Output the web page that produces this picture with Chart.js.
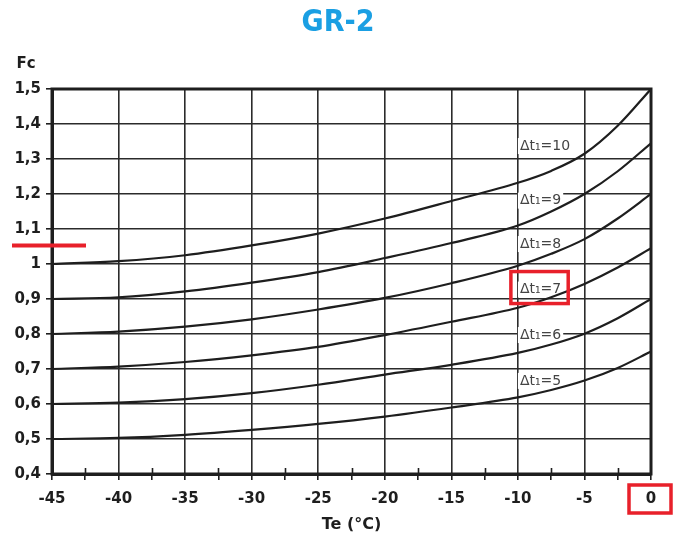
<!DOCTYPE html>
<html>
<head>
<meta charset="utf-8">
<script src="https://cdn.jsdelivr.net/npm/chart.js@4"></script>
<style>
  html, body { margin: 0; padding: 0; background: #fff; }
</style>
</head>
<body>
<canvas id="chart" width="673" height="540"></canvas>
<script>
// Evaporating temperature (°C) where the curves were read
const temps = [-45, -40, -35, -30, -25, -20, -15, -10, -7.5, -5, -2.5, 0];

// Correction factor Fc for each Δt1
const fcDt5  = [0.50, 0.503, 0.512, 0.526, 0.543, 0.564, 0.590, 0.619, 0.640, 0.667, 0.703, 0.75];
const fcDt6  = [0.60, 0.604, 0.614, 0.631, 0.655, 0.684, 0.712, 0.746, 0.770, 0.801, 0.845, 0.90];
const fcDt7  = [0.70, 0.707, 0.720, 0.739, 0.763, 0.797, 0.835, 0.875, 0.905, 0.943, 0.990, 1.045];
const fcDt8  = [0.80, 0.807, 0.821, 0.842, 0.870, 0.903, 0.945, 0.995, 1.029, 1.071, 1.130, 1.20];
const fcDt9  = [0.90, 0.905, 0.922, 0.947, 0.977, 1.017, 1.060, 1.110, 1.150, 1.200, 1.265, 1.345];
const fcDt10 = [1.00, 1.008, 1.025, 1.053, 1.087, 1.130, 1.180, 1.232, 1.266, 1.315, 1.395, 1.50];

const curveNames = ['Δt₁=5', 'Δt₁=6', 'Δt₁=7', 'Δt₁=8', 'Δt₁=9', 'Δt₁=10'];

const xTicks = [-45, -40, -35, -30, -25, -20, -15, -10, -5, 0];
const xTickLabels = ['-45', '-40', '-35', '-30', '-25', '-20', '-15', '-10', '-5', '0'];
const xMinorTicks = [-42.5, -37.5, -32.5, -27.5, -22.5, -17.5, -12.5, -7.5, -2.5];
const yTicks = [0.4, 0.5, 0.6, 0.7, 0.8, 0.9, 1.0, 1.1, 1.2, 1.3, 1.4, 1.5];
const yTickLabels = ['0,4', '0,5', '0,6', '0,7', '0,8', '0,9', '1', '1,1', '1,2', '1,3', '1,4', '1,5'];

const ink = '#1e1e1e';
const gridInk = '#2b2b2b';
const red = '#e8202a';
const tickFont = { family: '"DejaVu Sans"', size: 15, weight: 'bold' };
const labelFont = '14px "DejaVu Sans"';

// where each curve name sits (Fc value at its middle, x at left edge)
const labelX = -10;
const labelFc = [0.666, 0.797, 0.927, 1.057, 1.181, 1.337];

const curves = [fcDt5, fcDt6, fcDt7, fcDt8, fcDt9, fcDt10];

const overlay = {
    id: 'overlay',
    beforeDatasetsDraw(chart) {
        const c = chart.ctx;
        const xs = chart.scales.x, ys = chart.scales.y;
        c.save();
        c.font = labelFont;
        c.textBaseline = 'middle';
        curveNames.forEach((name, i) => {
            const x = xs.getPixelForValue(labelX) + 2;
            const y = ys.getPixelForValue(labelFc[i]);
            const w = c.measureText(name).width;
            c.fillStyle = '#fff';
            c.fillRect(x - 2, y - 8, w + 4, 16);
            c.fillStyle = '#444';
            c.fillText(name, x, y);
        });
        c.restore();
    },
    afterDraw(chart) {
        const c = chart.ctx;
        const a = chart.chartArea;
        const xs = chart.scales.x, ys = chart.scales.y;
        c.save();

        // frame
        c.strokeStyle = ink;
        c.lineWidth = 3;
        c.strokeRect(a.left, a.top, a.right - a.left, a.bottom - a.top);

        // half-step ticks crossing the bottom axis
        c.lineWidth = 1.6;
        xMinorTicks.forEach(v => {
            const x = Math.round(xs.getPixelForValue(v)) + 0.5;
            c.beginPath();
            c.moveTo(x, a.bottom - 6);
            c.lineTo(x, a.bottom);
            c.stroke();
        });

        // title
        c.fillStyle = '#1a9fe3';
        c.font = 'bold 30px "DejaVu Sans Condensed"';
        c.textAlign = 'center';
        c.textBaseline = 'middle';
        c.fillText('GR-2', 338, 23);

        // y axis name
        c.fillStyle = ink;
        c.font = 'bold 15px "DejaVu Sans"';
        c.fillText('Fc', 26, 64);

        // red marks
        c.strokeStyle = red;
        c.lineWidth = 4;
        const yr = ys.getPixelForValue(1.053);
        c.beginPath();
        c.moveTo(12, yr);
        c.lineTo(86, yr);
        c.stroke();

        c.font = labelFont;
        const lx = xs.getPixelForValue(labelX) + 2;
        const ly = ys.getPixelForValue(labelFc[2]);
        const lw = c.measureText(curveNames[2]).width;
        c.lineWidth = 3.5;
        c.strokeRect(lx - 9, ly - 18, lw + 16, 32);

        const x0 = xs.getPixelForValue(0);
        c.strokeRect(x0 - 22, 485, 42, 28);

        c.restore();
    }
};

const chart = new Chart(document.getElementById('chart'), {
    type: 'line',
    data: {
        datasets: curves.map((vals, i) => ({
            label: curveNames[i],
            data: temps.map((t, j) => ({ x: t, y: vals[j] })),
            borderColor: ink,
            borderWidth: 2.2,
            pointRadius: 0,
            cubicInterpolationMode: 'monotone',
            fill: false
        }))
    },
    options: {
        responsive: false,
        animation: false,
        devicePixelRatio: 1,
        layout: { padding: { top: 89, left: 0, right: 22, bottom: 0 } },
        plugins: {
            legend: { display: false },
            title: { display: false },
            tooltip: { enabled: false }
        },
        scales: {
            x: {
                type: 'linear',
                min: -45,
                max: 0,
                afterFit: s => { s.height = 66; },
                afterBuildTicks: s => {
                    s.ticks = xTicks.concat(xMinorTicks).sort((p, q) => p - q).map(v => ({ value: v }));
                },
                ticks: {
                    autoSkip: false,
                    maxRotation: 0,
                    padding: 10,
                    color: ink,
                    font: tickFont,
                    callback: v => {
                        const k = xTicks.indexOf(v);
                        return k >= 0 ? xTickLabels[k] : '';
                    }
                },
                grid: {
                    color: ctx => (ctx.tick && xTicks.includes(ctx.tick.value)) ? gridInk : 'rgba(0,0,0,0)',
                    tickColor: ink,
                    lineWidth: 1.6,
                    tickLength: 6
                },
                border: { color: ink, width: 3 },
                title: {
                    display: true,
                    text: 'Te (°C)',
                    color: ink,
                    font: { family: '"DejaVu Sans"', size: 16, weight: 'bold' },
                    padding: { top: 0, bottom: 6 }
                }
            },
            y: {
                min: 0.4,
                max: 1.5,
                afterFit: s => { s.width = 52; },
                afterBuildTicks: s => { s.ticks = yTicks.map(v => ({ value: v })); },
                ticks: {
                    autoSkip: false,
                    padding: 5,
                    color: ink,
                    font: tickFont,
                    callback: (v, i) => yTickLabels[i]
                },
                grid: {
                    color: gridInk,
                    tickColor: ink,
                    lineWidth: 1.6,
                    tickLength: 6
                },
                border: { color: ink, width: 3 }
            }
        }
    },
    plugins: [overlay]
});
</script>
</body>
</html>
